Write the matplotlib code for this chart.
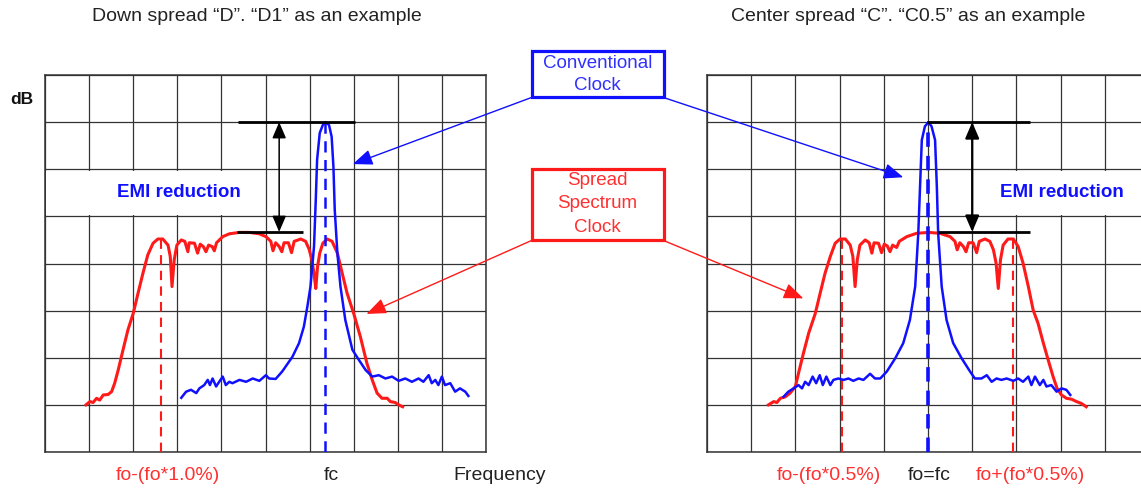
import matplotlib
matplotlib.use('Agg')
import matplotlib.pyplot as plt
from matplotlib.patches import Rectangle, ConnectionPatch

# ---------------- data (grid units: x 0..10 divisions, y 0..8 divisions) -------------
# Down spread panel
down_conv_x = [3.09, 3.20, 3.31, 3.43, 3.50, 3.61, 3.69, 3.74, 3.80, 3.88, 3.95, 4.03, 4.10, 4.18,
               4.25, 4.41, 4.56, 4.71, 4.86, 5.01, 5.08, 5.23, 5.38, 5.61, 5.76, 5.87, 5.95, 6.02,
               6.10, 6.14, 6.17, 6.23, 6.30, 6.36, 6.44, 6.50, 6.54, 6.57, 6.63, 6.70, 6.81, 6.97,
               7.12, 7.27, 7.42, 7.57, 7.72, 7.87, 8.02, 8.17, 8.32, 8.47, 8.58, 8.70, 8.77, 8.85,
               8.92, 9.00, 9.07, 9.19, 9.30, 9.41, 9.53, 9.60]
down_conv_y = [1.15, 1.28, 1.32, 1.25, 1.35, 1.42, 1.53, 1.42, 1.56, 1.39, 1.49, 1.60, 1.42, 1.49,
               1.46, 1.53, 1.49, 1.56, 1.51, 1.63, 1.56, 1.55, 1.71, 2.02, 2.31, 2.66, 3.09, 3.51,
               4.36, 5.35, 6.20, 6.77, 6.94, 7.00, 6.94, 6.69, 6.06, 5.14, 4.22, 3.51, 2.80, 2.17,
               1.95, 1.74, 1.60, 1.63, 1.56, 1.60, 1.51, 1.56, 1.49, 1.56, 1.49, 1.63, 1.46, 1.53,
               1.42, 1.60, 1.42, 1.46, 1.28, 1.35, 1.28, 1.19]
down_ssc_x = [0.93, 1.02, 1.09, 1.17, 1.24, 1.32, 1.43, 1.51, 1.58, 1.66, 1.77, 1.88, 2.00, 2.11,
              2.22, 2.33, 2.45, 2.56, 2.67, 2.79, 2.84, 2.88, 2.93, 2.99, 3.09, 3.17, 3.24, 3.27,
              3.39, 3.46, 3.52, 3.59, 3.65, 3.71, 3.79, 3.84, 3.89, 4.03, 4.18, 4.41, 4.63, 4.86,
              5.01, 5.12, 5.17, 5.23, 5.31, 5.37, 5.42, 5.52, 5.59, 5.65, 5.80, 5.91, 5.99, 6.05,
              6.10, 6.14, 6.18, 6.23, 6.30, 6.40, 6.51, 6.63, 6.74, 6.85, 7.00, 7.15, 7.30, 7.42,
              7.53, 7.64, 7.76, 7.83, 7.94, 8.02, 8.11]
down_ssc_y = [1.00, 1.07, 1.05, 1.14, 1.10, 1.21, 1.22, 1.28, 1.46, 1.74, 2.17, 2.59, 2.94, 3.37,
              3.79, 4.18, 4.43, 4.52, 4.52, 4.39, 4.15, 3.51, 4.08, 4.39, 4.50, 4.47, 4.25, 4.44,
              4.43, 4.22, 4.41, 4.36, 4.25, 4.39, 4.36, 4.27, 4.44, 4.57, 4.63, 4.66, 4.66, 4.63,
              4.57, 4.47, 4.27, 4.44, 4.36, 4.25, 4.44, 4.44, 4.23, 4.47, 4.52, 4.47, 4.30, 4.08,
              3.79, 3.47, 3.93, 4.22, 4.43, 4.52, 4.47, 4.22, 3.79, 3.37, 2.94, 2.45, 1.88, 1.53,
              1.25, 1.14, 1.14, 1.07, 1.05, 1.00, 0.96]
down_fc = 6.36
down_fmin = 2.62
down_peak = 7.0
down_ssc_peak = 4.67

# Center spread panel
center_conv_x = [1.73, 1.84, 1.96, 2.07, 2.15, 2.22, 2.30, 2.39, 2.47, 2.55, 2.62, 2.70, 2.79, 2.86,
                 2.97, 3.09, 3.20, 3.31, 3.43, 3.54, 3.69, 3.80, 3.92, 4.07, 4.26, 4.44, 4.59, 4.71,
                 4.78, 4.82, 4.86, 4.93, 5.01, 5.08, 5.16, 5.20, 5.23, 5.31, 5.42, 5.57, 5.76, 5.95,
                 6.06, 6.21, 6.33, 6.44, 6.55, 6.66, 6.78, 6.93, 7.04, 7.15, 7.27, 7.34, 7.42, 7.53,
                 7.61, 7.68, 7.79, 7.91, 8.02, 8.13, 8.22]
center_conv_y = [1.17, 1.28, 1.35, 1.42, 1.35, 1.49, 1.42, 1.60, 1.46, 1.63, 1.42, 1.60, 1.42, 1.53,
                 1.56, 1.53, 1.56, 1.51, 1.56, 1.53, 1.66, 1.56, 1.56, 1.71, 1.99, 2.31, 2.80, 3.51,
                 4.64, 5.63, 6.62, 6.91, 7.00, 6.91, 6.62, 5.63, 4.64, 3.51, 2.80, 2.31, 1.99, 1.71,
                 1.56, 1.56, 1.63, 1.49, 1.56, 1.53, 1.56, 1.51, 1.56, 1.49, 1.60, 1.42, 1.60, 1.42,
                 1.53, 1.39, 1.42, 1.28, 1.35, 1.32, 1.21]
center_ssc_x = [1.39, 1.51, 1.58, 1.66, 1.77, 1.88, 2.00, 2.07, 2.18, 2.30, 2.45, 2.56, 2.67, 2.79,
                2.90, 3.01, 3.13, 3.24, 3.30, 3.35, 3.40, 3.46, 3.58, 3.67, 3.73, 3.78, 3.88, 3.95,
                4.01, 4.08, 4.14, 4.20, 4.29, 4.35, 4.52, 4.74, 5.01, 5.27, 5.50, 5.61, 5.66, 5.72,
                5.80, 5.86, 5.92, 6.02, 6.10, 6.16, 6.29, 6.40, 6.48, 6.54, 6.59, 6.64, 6.70, 6.81,
                6.93, 7.04, 7.15, 7.27, 7.38, 7.49, 7.61, 7.72, 7.83, 7.92, 8.02, 8.13, 8.25, 8.36,
                8.47, 8.58]
center_ssc_y = [1.00, 1.07, 1.05, 1.14, 1.17, 1.25, 1.39, 1.67, 2.09, 2.52, 2.94, 3.37, 3.79, 4.15,
                4.43, 4.52, 4.52, 4.39, 4.15, 3.51, 4.08, 4.39, 4.50, 4.44, 4.22, 4.44, 4.43, 4.23,
                4.41, 4.37, 4.25, 4.39, 4.34, 4.47, 4.57, 4.64, 4.66, 4.64, 4.57, 4.47, 4.29, 4.44,
                4.36, 4.25, 4.44, 4.44, 4.23, 4.47, 4.52, 4.47, 4.29, 4.01, 3.47, 4.08, 4.39, 4.52,
                4.52, 4.36, 4.01, 3.51, 3.01, 2.73, 2.31, 1.95, 1.60, 1.35, 1.21, 1.14, 1.12, 1.07,
                1.03, 0.96]
center_fc = 5.0
center_fmin = 3.06
center_fmax = 6.93
center_peak = 7.0
center_ssc_peak = 4.67

titles = ['Down spread \u201cD\u201d. \u201cD1\u201d as an example',
          'Center spread \u201cC\u201d. \u201cC0.5\u201d as an example']
bottom_labels = ['fo-(fo*1.0%)', 'fc', 'Frequency', 'fo-(fo*0.5%)', 'fo=fc', 'fo+(fo*0.5%)']

# ---------------- figure ----------------
W, H = 1141, 488
plt.rcParams['font.family'] = ['Liberation Sans', 'DejaVu Sans']
fig = plt.figure(figsize=(W / 100, H / 100), dpi=100)


def fx(px):
    return px / W


def fy(py):
    return 1 - py / H


BLUE = '#1010ff'
RED = '#ff1a1a'
BLUE_T = '#3030ff'
RED_T = '#ff3030'
GRID = '#333333'

axL = fig.add_axes([fx(45), fy(452), 441 / W, 377 / H])
axR = fig.add_axes([fx(707), fy(452), 442 / W, 377 / H])

for ax in (axL, axR):
    ax.set_xlim(0, 10)
    ax.set_ylim(0, 8)
    ax.set_xticks(range(11))
    ax.set_yticks(range(9))
    ax.tick_params(length=0, labelbottom=False, labelleft=False)
    ax.grid(True, color=GRID, lw=0.9)
    ax.set_axisbelow(True)
    for s in ax.spines.values():
        s.set_color(GRID)
        s.set_linewidth(1.1)

# white label cells
axL.add_patch(Rectangle((0.03, 5.03), 4.94, 0.94, facecolor='white', edgecolor='none', zorder=1))
axR.add_patch(Rectangle((6.03, 5.03), 3.97, 0.94, facecolor='white', edgecolor='none', zorder=1))

# curves
axL.plot(down_ssc_x, down_ssc_y, color=RED, lw=2.2, zorder=3, solid_joinstyle='round')
axL.plot(down_conv_x, down_conv_y, color=BLUE, lw=1.8, zorder=4, solid_joinstyle='round')
axL.plot([down_fmin, down_fmin], [0, 4.5], color=RED, lw=1.5, dashes=(4.5, 3), zorder=3)
axL.plot([down_fc, down_fc], [0, down_peak], color=BLUE, lw=1.8, dashes=(4.5, 3), zorder=5)

axR.plot(center_ssc_x, center_ssc_y, color=RED, lw=2.2, zorder=3, solid_joinstyle='round')
axR.plot(center_conv_x, center_conv_y, color=BLUE, lw=1.8, zorder=4, solid_joinstyle='round')
axR.plot([center_fmin, center_fmin], [0, 4.5], color=RED, lw=1.5, dashes=(4.5, 3), zorder=3)
axR.plot([center_fmax, center_fmax], [0, 4.5], color=RED, lw=1.5, dashes=(4.5, 3), zorder=3)
axR.plot([center_fc, center_fc], [0, center_peak], color=BLUE, lw=2.6, dashes=(4, 2.5), zorder=5)

# EMI reduction markers
axL.plot([4.37, 7.04], [down_peak, down_peak], color='black', lw=2.0, zorder=6, solid_capstyle='butt')
axL.plot([4.35, 5.84], [down_ssc_peak, down_ssc_peak], color='black', lw=2.0, zorder=6, solid_capstyle='butt')
axL.annotate('', xy=(5.31, down_ssc_peak), xytext=(5.31, down_peak),
             arrowprops=dict(arrowstyle='<|-|>,head_length=0.7,head_width=0.3', mutation_scale=14,
                             lw=1.1, color='black', shrinkA=0, shrinkB=0), zorder=6)
axR.plot([4.97, 7.30], [center_peak, center_peak], color='black', lw=2.0, zorder=6, solid_capstyle='butt')
axR.plot([5.23, 7.30], [center_ssc_peak, center_ssc_peak], color='black', lw=2.0, zorder=6, solid_capstyle='butt')
axR.annotate('', xy=(6.0, center_ssc_peak), xytext=(6.0, center_peak),
             arrowprops=dict(arrowstyle='<|-|>,head_length=0.7,head_width=0.3', mutation_scale=14,
                             lw=1.6, color='black', shrinkA=0, shrinkB=0), zorder=6)

axL.text(3.03, 5.5, 'EMI reduction', color=BLUE, fontsize=13.5, fontweight='bold',
         ha='center', va='center', zorder=7)
axR.text(8.02, 5.5, 'EMI reduction', color=BLUE, fontsize=13.5, fontweight='bold',
         ha='center', va='center', zorder=7)

# texts
fig.text(fx(22), fy(99.5), 'dB', fontsize=12.5, fontweight='bold', ha='center', va='center', color='#111111')
fig.text(fx(257), fy(16.5), titles[0], fontsize=14, ha='center', va='center', color='#222222')
fig.text(fx(908), fy(16.5), titles[1], fontsize=14, ha='center', va='center', color='#222222')

label_x = [168, 331, 500, 829, 929, 1030]
label_c = [RED_T, '#222222', '#222222', RED_T, '#222222', RED_T]
for lx, lt, lc in zip(label_x, bottom_labels, label_c):
    fig.text(fx(lx), fy(476), lt, fontsize=14, ha='center', va='center', color=lc)

# legend boxes
bx0, bx1 = 531.5, 663.5
fig.add_artist(Rectangle((fx(bx0), fy(97)), (bx1 - bx0) / W, 45.5 / H, transform=fig.transFigure,
                         facecolor='white', edgecolor=BLUE, lw=2.3, zorder=10))
fig.text(fx(597.5), fy(63.5), 'Conventional', fontsize=13.5, ha='center', va='center', color=BLUE_T, zorder=11)
fig.text(fx(597.5), fy(85.5), 'Clock', fontsize=13.5, ha='center', va='center', color=BLUE_T, zorder=11)

fig.add_artist(Rectangle((fx(bx0), fy(240)), (bx1 - bx0) / W, 71 / H, transform=fig.transFigure,
                         facecolor='white', edgecolor=RED, lw=2.3, zorder=10))
for i, t in enumerate(['Spread', 'Spectrum', 'Clock']):
    fig.text(fx(597.5), fy(180.5 + 23.5 * i), t, fontsize=13.5, ha='center', va='center', color=RED_T, zorder=11)

# connector arrows
arrow_specs = [
    ((fx(bx0), fy(97.5)), axL, (6.98, 6.11), BLUE),
    ((fx(bx1), fy(97.5)), axR, (4.44, 5.83), BLUE),
    ((fx(bx0), fy(240.5)), axL, (7.29, 2.93), RED),
    ((fx(bx1), fy(240.5)), axR, (2.18, 3.26), RED),
]
for start, ax, tip, col in arrow_specs:
    con = ConnectionPatch(xyA=start, coordsA='figure fraction', xyB=tip, coordsB=ax.transData,
                          arrowstyle='-|>,head_length=0.8,head_width=0.32', mutation_scale=15,
                          lw=1.0, color=col, shrinkA=0, shrinkB=0, zorder=9)
    fig.add_artist(con)

fig.savefig('out.png', dpi=100, facecolor='white')
